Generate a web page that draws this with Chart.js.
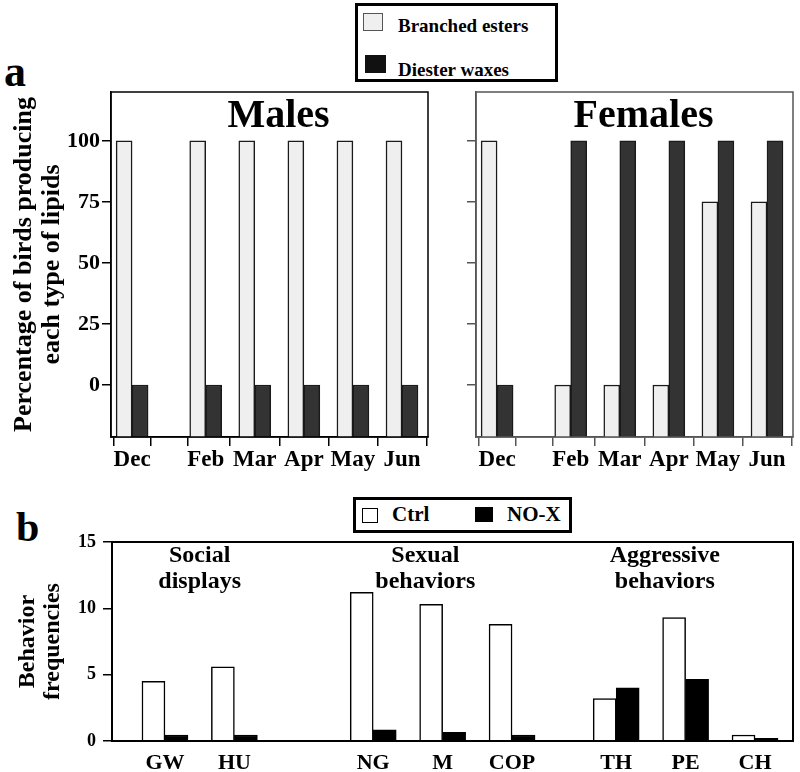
<!DOCTYPE html>
<html>
<head>
<meta charset="utf-8">
<script src="https://cdn.jsdelivr.net/npm/chart.js@4.4.1/dist/chart.umd.min.js"></script>
<style>
  body { margin: 0; background: #fff; width: 800px; height: 772px; position: relative; overflow: hidden;
         font-family: "Liberation Serif", "Times New Roman", serif; font-weight: bold; color: #000; }
  canvas { position: absolute; }
  .letter { position: absolute; font-weight: bold; line-height: 1; }
  .legend { position: absolute; border: 3px solid #000; box-sizing: border-box; background: #fff; }
  .legend .txt { position: absolute; font-size: 19px; line-height: 1; white-space: nowrap; }
  .legend .sw { position: absolute; box-sizing: border-box; }
</style>
</head>
<body>

<div class="letter" style="left:4px; top:50px; font-size:44px;">a</div>
<div class="letter" style="left:16px; top:506px; font-size:42px;">b</div>

<div class="legend" style="left:355px; top:3px; width:203px; height:79px;">
  <div class="sw" style="left:5px; top:7px; width:20px; height:18px; background:#efefef; border:1.5px solid #555;"></div>
  <div class="txt" style="left:40px; top:10px;">Branched esters</div>
  <div class="sw" style="left:7px; top:49px; width:21px; height:18px; background:#111;"></div>
  <div class="txt" style="left:40px; top:54px;">Diester waxes</div>
</div>

<div class="legend" style="left:353px; top:497px; width:219px; height:36px;">
  <div class="sw" style="left:6px; top:8px; width:16px; height:15px; background:#fff; border:1.5px solid #000;"></div>
  <div class="txt" style="left:36px; top:4px; font-size:21px;">Ctrl</div>
  <div class="sw" style="left:119px; top:7px; width:18px; height:15px; background:#000;"></div>
  <div class="txt" style="left:151px; top:4px; font-size:21px;">NO-X</div>
</div>

<canvas id="malesChart" width="440" height="480" style="left:0; top:0;"></canvas>
<canvas id="femalesChart" width="360" height="480" style="left:440px; top:0;"></canvas>
<canvas id="behaviorChart" width="800" height="292" style="left:0; top:480px;"></canvas>

<script>
// ---- panel a: lipids ----
const months = ['Dec', 'Feb', 'Mar', 'Apr', 'May', 'Jun'];
const maleBranched = [100, 100, 100, 100, 100, 100];
const maleDiester = [0, 0, 0, 0, 0, 0];
const femaleBranched = [100, 0, 0, 0, 75, 75];
const femaleDiester = [0, 100, 100, 100, 100, 100];
const lipidTicks = [0, 25, 50, 75, 100];

// ---- panel b: behaviours ----
const behaviors = ['GW', 'HU', 'NG', 'M', 'COP', 'TH', 'PE', 'CH'];
const groupSizes = [2, 3, 3];
const groupNames = [['Social', 'displays'], ['Sexual', 'behaviors'], ['Aggressive', 'behaviors']];
const ctrlFreq = [4.5, 5.6, 11.2, 10.3, 8.8, 3.2, 9.3, 0.45];
const noxFreq = [0.45, 0.45, 0.85, 0.65, 0.45, 4.0, 4.65, 0.2];
const freqTicks = [0, 5, 10, 15];

const FONT = '"Liberation Serif", "Times New Roman", serif';
const LIGHT = '#efefef';
const DARK = '#333333';
const EDGE = '#1a1a1a';

// one slot per category, extra room between groups
function slotPositions(sizes, gaps) {
    const out = [];
    let x = 0;
    sizes.forEach((n, g) => {
        for (let i = 0; i < n; i++) { out.push(x); x += 1; }
        x += gaps[g] || 0;
    });
    return out;
}

const monthX = slotPositions([1, 5], [0.5]);          // January was not sampled
const monthTickX = [monthX[0], (monthX[0] + monthX[1]) / 2].concat(monthX.slice(1));
const behaviorX = slotPositions(groupSizes, [1, 0.5]);
const groupLabelX = [0.5, 3.75, 7.2];

const toPoints = (xs, ys) => ys.map((y, i) => ({ x: xs[i], y: y }));

// frame around the plot area
const framePlugin = {
    id: 'frame',
    afterDatasetsDraw(chart, args, opts) {
        const { ctx, chartArea: a } = chart;
        ctx.save();
        ctx.strokeStyle = opts.color || '#000';
        ctx.lineWidth = opts.width || 1.5;
        ctx.strokeRect(a.left, a.top, a.right - a.left, a.bottom - a.top);
        ctx.restore();
    }
};

// big title inside the frame (Males / Females)
const panelTitlePlugin = {
    id: 'panelTitle',
    afterDraw(chart, args, opts) {
        if (!opts.text) return;
        const { ctx, chartArea: a } = chart;
        ctx.save();
        ctx.font = 'bold 40px ' + FONT;
        ctx.fillStyle = '#000';
        ctx.textAlign = 'center';
        ctx.textBaseline = 'alphabetic';
        ctx.fillText(opts.text, (a.left + a.right) / 2 + (opts.dx || 0), a.top + 34.5);
        ctx.restore();
    }
};

// two-line group captions in panel b
const groupLabelPlugin = {
    id: 'groupLabels',
    afterDraw(chart, args, opts) {
        if (!opts.names) return;
        const { ctx, chartArea: a, scales } = chart;
        ctx.save();
        ctx.font = 'bold 24px ' + FONT;
        ctx.fillStyle = '#000';
        ctx.textAlign = 'center';
        ctx.textBaseline = 'alphabetic';
        opts.names.forEach((lines, i) => {
            const x = scales.x.getPixelForValue(opts.at[i]);
            lines.forEach((t, j) => ctx.fillText(t, x, a.top + 20 + j * 26));
        });
        ctx.restore();
    }
};

Chart.register(framePlugin, panelTitlePlugin, groupLabelPlugin);

const Y_MIN_A = -21.3;

function lipidChart(id, branched, diester, o) {
    const tickGrid = { display: true, drawOnChartArea: false, drawTicks: true, tickLength: 9, color: o.frame, lineWidth: 1.5 };
    return new Chart(document.getElementById(id), {
        type: 'bar',
        data: {
            datasets: [
                { label: 'Branched esters', data: toPoints(monthX, branched), backgroundColor: LIGHT,
                  borderColor: EDGE, borderWidth: 1.5, barThickness: 16, base: Y_MIN_A },
                { label: 'Diester waxes', data: toPoints(monthX, diester), backgroundColor: DARK,
                  borderColor: EDGE, borderWidth: 1.5, barThickness: 16, base: Y_MIN_A }
            ]
        },
        options: {
            responsive: false,
            animation: false,
            devicePixelRatio: 1,
            layout: { padding: { top: 92, right: o.padRight, left: 0, bottom: 0 } },
            plugins: {
                legend: { display: false },
                tooltip: { enabled: false },
                frame: { color: o.frame, width: 1.5 },
                panelTitle: { text: o.title, dx: 9 }
            },
            scales: {
                x: {
                    type: 'linear', min: -0.43, max: 6.03, offset: false,
                    afterBuildTicks: s => { s.ticks = monthTickX.map(v => ({ value: v })); },
                    afterFit: s => { s.height = 43; },
                    grid: tickGrid,
                    border: { display: true, color: o.frame, width: 1.5 },
                    ticks: {
                        autoSkip: false, maxRotation: 0, minRotation: 0, padding: 0, color: '#000',
                        font: { family: FONT, size: 23, weight: 'bold', lineHeight: 1.2 },
                        callback: v => { const i = monthX.indexOf(v); return i < 0 ? '' : months[i]; }
                    }
                },
                y: {
                    min: Y_MIN_A, max: 120,
                    afterBuildTicks: s => { s.ticks = lipidTicks.map(v => ({ value: v })); },
                    afterFit: s => { s.width = o.axisW; },
                    grid: tickGrid,
                    border: { display: true, color: o.frame, width: 1.5 },
                    ticks: {
                        display: o.labels, padding: 2, color: '#000',
                        font: { family: FONT, size: 22, weight: 'bold' }
                    },
                    title: {
                        display: o.labels,
                        text: ['Percentage of birds producing', 'each type of lipids'],
                        color: '#000',
                        font: { family: FONT, size: 26, weight: 'bold', lineHeight: 1.05 },
                        padding: { top: 11, bottom: 0 }
                    }
                }
            }
        }
    });
}

lipidChart('malesChart', maleBranched, maleDiester, { title: 'Males', frame: '#000', padRight: 12, axisW: 111, labels: true });
lipidChart('femalesChart', femaleBranched, femaleDiester, { title: 'Females', frame: '#555', padRight: 7, axisW: 36, labels: false });

new Chart(document.getElementById('behaviorChart'), {
    type: 'bar',
    data: {
        datasets: [
            { label: 'Ctrl', data: toPoints(behaviorX, ctrlFreq), backgroundColor: '#fff',
              borderColor: '#000', borderWidth: 1.5, barThickness: 23 },
            { label: 'NO-X', data: toPoints(behaviorX, noxFreq), backgroundColor: '#000',
              borderColor: '#000', borderWidth: 1.5, barThickness: 23 }
        ]
    },
    options: {
        responsive: false,
        animation: false,
        devicePixelRatio: 1,
        layout: { padding: { top: 62, right: 7, left: 0, bottom: 0 } },
        plugins: {
            legend: { display: false },
            tooltip: { enabled: false },
            frame: { color: '#000', width: 2 },
            groupLabels: { names: groupNames, at: groupLabelX }
        },
        scales: {
            x: {
                type: 'linear', min: -0.763, max: 9.047, offset: false,
                afterBuildTicks: s => { s.ticks = behaviorX.map(v => ({ value: v })); },
                afterFit: s => { s.height = 31; },
                grid: { display: false, drawTicks: false },
                border: { display: true, color: '#000', width: 2 },
                ticks: {
                    autoSkip: false, maxRotation: 0, minRotation: 0, padding: 9, color: '#000',
                    font: { family: FONT, size: 22, weight: 'bold', lineHeight: 1.2 },
                    callback: v => { const i = behaviorX.indexOf(v); return i < 0 ? '' : behaviors[i]; }
                }
            },
            y: {
                min: 0, max: 15,
                afterBuildTicks: s => { s.ticks = freqTicks.map(v => ({ value: v })); },
                afterFit: s => { s.width = 112; },
                grid: { display: true, drawOnChartArea: false, drawTicks: true, tickLength: 9, color: '#000', lineWidth: 1.5 },
                border: { display: true, color: '#000', width: 2 },
                ticks: { padding: 7, color: '#000', font: { family: FONT, size: 18, weight: 'bold' } },
                title: {
                    display: true,
                    text: ['Behavior', 'frequencies'],
                    color: '#000',
                    font: { family: FONT, size: 24, weight: 'bold', lineHeight: 1.05 },
                    padding: { top: 15, bottom: 0 }
                }
            }
        }
    }
});
</script>
</body>
</html>
